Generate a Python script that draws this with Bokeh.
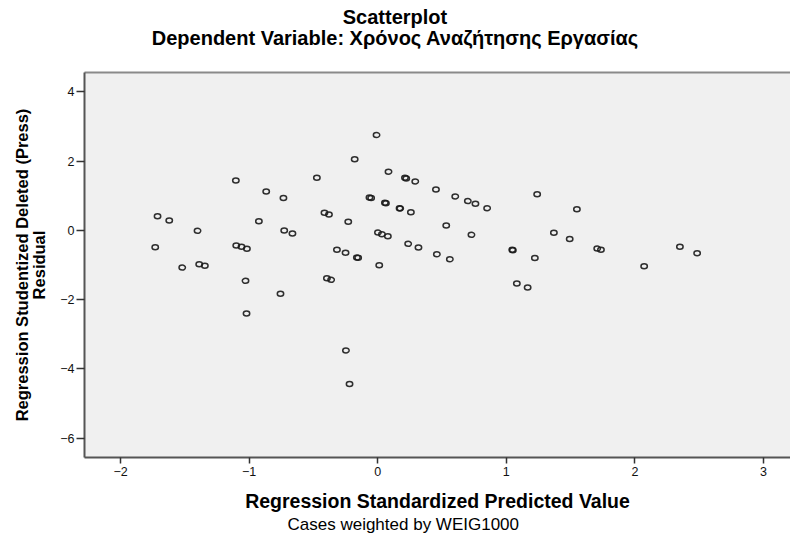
from bokeh.plotting import figure
from bokeh.models import FixedTicker, LinearAxis, Title, Div
from bokeh.layouts import column
from bokeh.embed import file_html
from bokeh.resources import INLINE

# Regression standardized predicted values (x) and studentized deleted residuals (y)
pred = [-1.730, -1.712, -1.621, -1.520, -1.401, -1.388, -1.344, -1.103, -1.100, -1.059,
        -1.017, -1.028, -1.020, -0.924, -0.867, -0.756, -0.733, -0.727, -0.663, -0.473,
        -0.414, -0.379, -0.395, -0.362, -0.317, -0.250, -0.229, -0.179, -0.162, -0.152,
        -0.247, -0.219, -0.064, -0.051, -0.009, 0.002, 0.033, 0.079, 0.012, 0.056,
        0.064, 0.084, 0.170, 0.175, 0.212, 0.222, 0.237, 0.258, 0.292, 0.317,
        0.453, 0.460, 0.533, 0.561, 0.603, 0.701, 0.729, 0.760, 0.851, 1.046,
        1.051, 1.082, 1.166, 1.222, 1.240, 1.370, 1.493, 1.549, 1.707, 1.736,
        2.072, 2.350, 2.484]
resid = [-0.486, 0.411, 0.286, -1.074, -0.012, -0.978, -1.024, 1.444, -0.437, -0.475,
         -0.532, -1.458, -2.404, 0.266, 1.126, -1.832, 0.932, -0.003, -0.090, 1.522,
         0.509, 0.460, -1.383, -1.429, -0.561, -0.648, 0.249, 2.052, -0.784, -0.790,
         -3.466, -4.439, 0.952, 0.932, 2.755, -0.061, -0.110, -0.168, -1.007, 0.799,
         0.787, 1.696, 0.642, 0.634, 1.522, 1.502, -0.388, 0.527, 1.415, -0.495,
         1.183, -0.689, 0.142, -0.833, 0.981, 0.845, -0.127, 0.770, 0.642, -0.561,
         -0.573, -1.536, -1.652, -0.799, 1.045, -0.069, -0.249, 0.613, -0.524, -0.561,
         -1.036, -0.475, -0.660]

x_ticks = [-2, -1, 0, 1, 2, 3]
y_ticks = [-6, -4, -2, 0, 2, 4]

title_text = "Scatterplot"
subtitle_text = "Dependent Variable: Χρόνος Αναζήτησης Εργασίας"
footer_text = "Cases weighted by WEIG1000"
x_label = "Regression Standardized Predicted Value"
y_label = "Regression Studentized Deleted (Press)\nResidual"

FONT = "Liberation Sans"

head = Div(text=(
    '<div style="width:780px;padding-left:10px;padding-top:7px;text-align:center;'
    'font-family:\'Liberation Sans\',Arial,sans-serif;font-weight:bold;font-size:20px;'
    'line-height:21px;color:#000;">'
    f'{title_text}<br>{subtitle_text}</div>'),
    width=790, height=58, margin=0)

p = figure(width=790, height=479, output_backend="svg", toolbar_location=None,
           x_range=(-2.28, 3.21), y_range=(-6.56, 4.56),
           min_border_left=84, min_border_top=14, min_border_bottom=80, min_border_right=0,
           background_fill_color="#f0f0f0", border_fill_color="white",
           outline_line_color=None, margin=0)

xax = p.xaxis[0]
yax = p.yaxis[0]

p.ellipse(pred, resid, width=6.4, height=5.0, width_units="screen", height_units="screen",
          fill_color=None, line_color="#1a1a1a", line_width=1.5, line_alpha=0.9)

p.grid.visible = False

# top border of the plot area (the original shows no right border)
top = LinearAxis(ticker=FixedTicker(ticks=[]), major_label_text_font_size="0px",
                 axis_line_color="#8a8a8a", axis_line_width=2,
                 major_tick_line_color=None, minor_tick_line_color=None)
p.add_layout(top, "above")

for ax in (xax, yax):
    ax.axis_line_color = "#555555"
    ax.axis_line_width = 2
    ax.major_tick_line_color = "#333333"
    ax.major_tick_line_width = 1.5
    ax.major_tick_in = 0
    ax.minor_tick_line_color = None
    ax.major_label_text_font = FONT
    ax.major_label_text_font_size = "12.5px"
    ax.major_label_text_color = "#111111"
    ax.axis_label_text_font = FONT
    ax.axis_label_text_font_style = "bold"
    ax.axis_label_text_color = "#000000"

xax.ticker = FixedTicker(ticks=x_ticks)
xax.major_tick_out = 6
xax.major_label_standoff = 3
xax.axis_label = x_label
xax.axis_label_text_font_size = "19.5px"
xax.axis_label_standoff = 11

yax.ticker = FixedTicker(ticks=y_ticks)
yax.major_tick_out = 8
yax.major_label_standoff = 2
yax.axis_label = y_label
yax.axis_label_text_font_size = "16.5px"
yax.axis_label_text_line_height = 0.95
yax.axis_label_standoff = 9

p.add_layout(Title(text=footer_text, align="left", offset=203, vertical_align="top",
                   text_font=FONT, text_font_size="17px", text_font_style="normal",
                   text_color="#000000", standoff=0), "below")

layout = column(head, p, spacing=0)
open("out.html", "w").write(file_html(layout, INLINE))
